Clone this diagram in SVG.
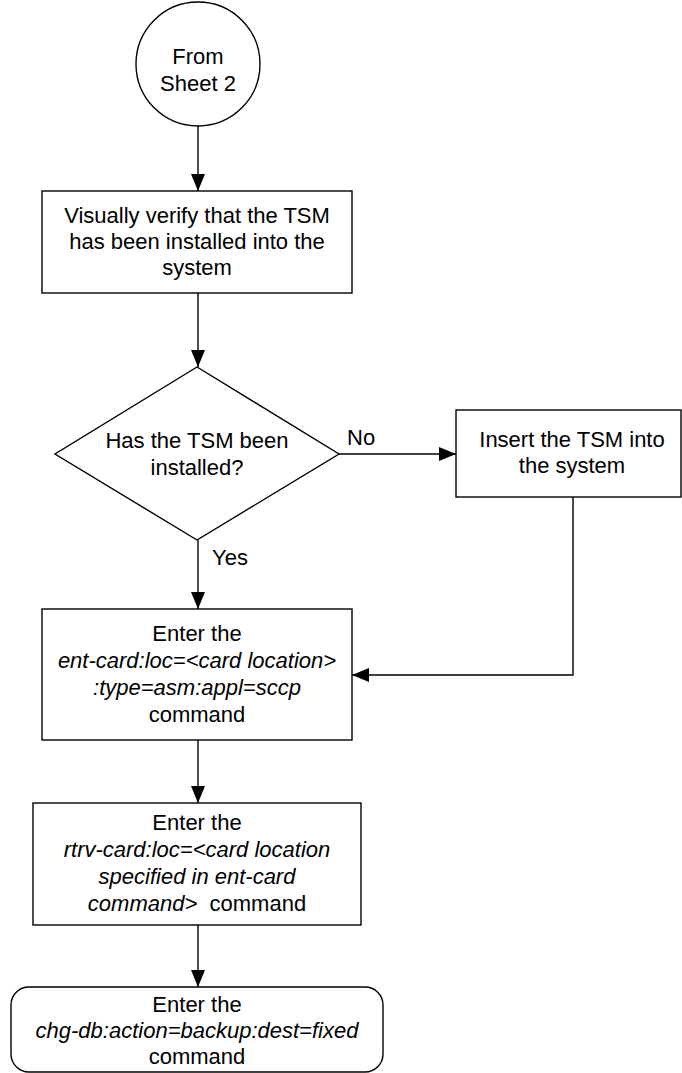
<svg xmlns="http://www.w3.org/2000/svg" width="682" height="1073" viewBox="0 0 682 1073">
  <defs>
    <marker id="arrow" viewBox="0 0 17 15" refX="17" refY="7.5" markerWidth="17" markerHeight="15" markerUnits="userSpaceOnUse" orient="auto">
      <path d="M0,0.5 L17,7.5 L0,14.5 Z" fill="#000"/>
    </marker>
    <style>
      .shape { fill: #fff; stroke: #000; stroke-width: 1.4; }
      .conn { fill: none; stroke: #000; stroke-width: 1.4; marker-end: url(#arrow); }
      text { font-family: "Liberation Sans", Arial, sans-serif; font-size: 22px; fill: #000; text-anchor: middle; }
      .it { font-style: italic; }
      .lbl { text-anchor: start; }
    </style>
  </defs>

  <!-- connectors -->
  <g id="connectors">
    <line class="conn" x1="198" y1="126" x2="198" y2="191"/>
    <line class="conn" x1="198" y1="293" x2="198" y2="367"/>
    <line class="conn" x1="339" y1="454" x2="456" y2="454"/>
    <line class="conn" x1="198" y1="540" x2="198" y2="609"/>
    <polyline class="conn" points="573,497 573,675 352,675"/>
    <line class="conn" x1="198" y1="740" x2="198" y2="803"/>
    <line class="conn" x1="198" y1="925" x2="198" y2="987"/>
    <text class="lbl" x="347" y="445">No</text>
    <text class="lbl" x="212" y="565">Yes</text>
  </g>

  <g id="start">
    <circle class="shape" cx="198" cy="64" r="62"/>
    <text x="198" y="64">From</text>
    <text x="198" y="91">Sheet 2</text>
  </g>

  <g id="verify">
    <rect class="shape" x="42" y="191" width="310" height="102"/>
    <text x="197" y="223">Visually verify that the TSM</text>
    <text x="197" y="249">has been installed into the</text>
    <text x="197" y="275">system</text>
  </g>

  <g id="installed">
    <polygon class="shape" points="197,367 339,454 197,540 55,454"/>
    <text x="197" y="448">Has the TSM been</text>
    <text x="197" y="475">installed?</text>
  </g>

  <g id="insert">
    <rect class="shape" x="456" y="410" width="225" height="87"/>
    <text x="572" y="447">Insert the TSM into</text>
    <text x="572" y="473">the system</text>
  </g>

  <g id="ent-card">
    <rect class="shape" x="42" y="609" width="310" height="131"/>
    <text x="197" y="641">Enter the</text>
    <text x="197" y="668" class="it">ent-card:loc=&lt;card location&gt;</text>
    <text x="197" y="695" class="it">:type=asm:appl=sccp</text>
    <text x="197" y="722">command</text>
  </g>

  <g id="rtrv-card">
    <rect class="shape" x="33" y="803" width="328" height="122"/>
    <text x="197" y="830">Enter the</text>
    <text x="197" y="857" class="it">rtrv-card:loc=&lt;card location</text>
    <text x="197" y="884" class="it">specified in ent-card</text>
    <text x="197" y="911" xml:space="preserve"><tspan class="it">command&gt;</tspan>  command</text>
  </g>

  <g id="chg-db">
    <rect class="shape" x="11" y="987" width="372" height="85" rx="18"/>
    <text x="197" y="1012">Enter the</text>
    <text x="197" y="1038" class="it">chg-db:action=backup:dest=fixed</text>
    <text x="197" y="1064">command</text>
  </g>
</svg>
